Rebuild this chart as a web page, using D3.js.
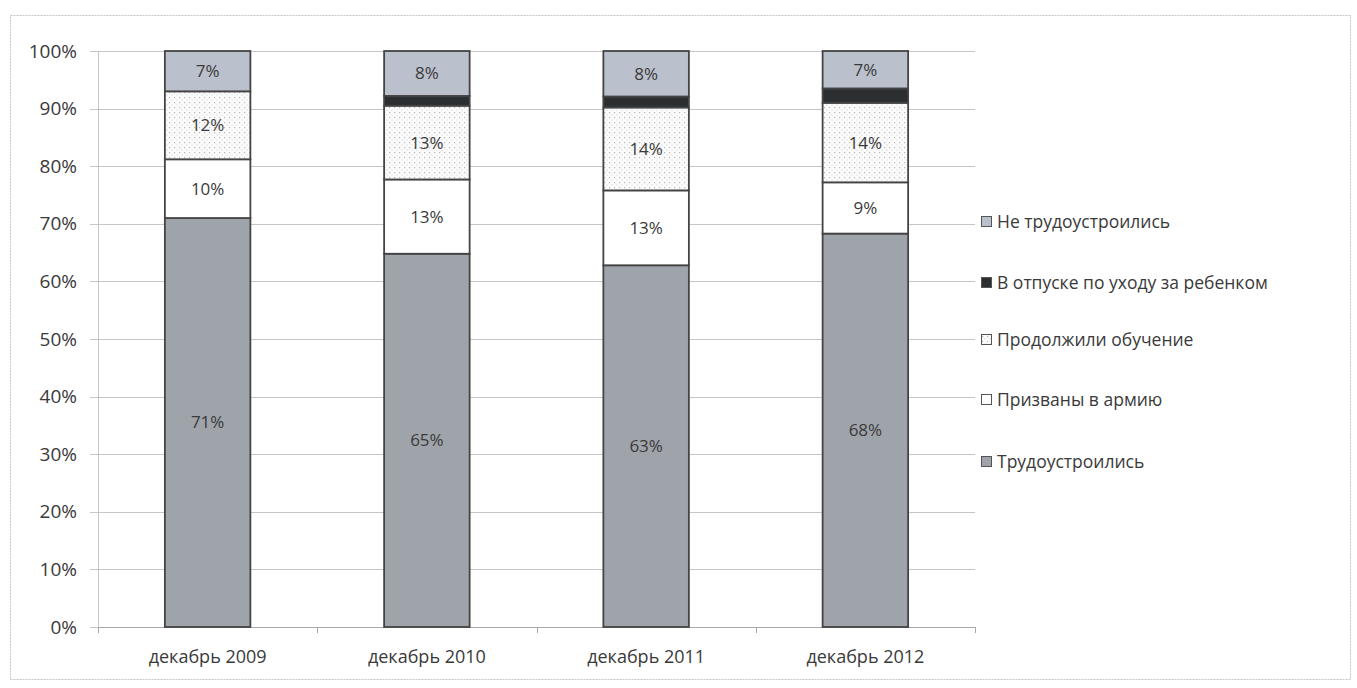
<!DOCTYPE html>
<html>
<head>
<meta charset="utf-8">
<script src="https://cdn.jsdelivr.net/npm/d3@7"></script>
<style>
  body { margin: 0; background: #fff; }
  text { font-family: "Open Sans", sans-serif; fill: #3a3a3a; }
</style>
</head>
<body>
<div id="drawingArea"></div>
<script>
// categories and series (percent of graduates)
var categories = ["декабрь 2009", "декабрь 2010", "декабрь 2011", "декабрь 2012"];
var seriesNames = ["Трудоустроились", "Призваны в армию", "Продолжили обучение",
                   "В отпуске по уходу за ребенком", "Не трудоустроились"];
var employed   = [71, 64.8, 62.8, 68.3];
var army       = [10.2, 12.9, 13.0, 8.9];
var study      = [11.8, 12.8, 14.4, 13.8];
var leave      = [0, 1.7, 1.9, 2.5];
var unemployed = [7, 7.8, 7.9, 6.5];
var yTicks = [0, 10, 20, 30, 40, 50, 60, 70, 80, 90, 100];

var seriesValues = [employed, army, study, leave, unemployed];
var fills = ["#9fa3aa", "#ffffff", "url(#dots)", "#2b2f31", "#bac0cc"];
var showLabel = [true, true, true, false, true];

var W = 1357, H = 688;
var margin = {top: 51, left: 98},
    width = 877,
    height = 576;

var svg = d3.select("#drawingArea").append("svg")
    .attr("width", W)
    .attr("height", H);

// dotted fill
var pat = svg.append("defs").append("pattern")
    .attr("id", "dots")
    .attr("width", 5).attr("height", 5)
    .attr("patternUnits", "userSpaceOnUse");
pat.append("rect").attr("width", 5).attr("height", 5).attr("fill", "#fbfbfb");
pat.append("rect").attr("x", 1).attr("y", 1).attr("width", 1.2).attr("height", 1.2).attr("fill", "#b8b8b8");
pat.append("rect").attr("x", 3.5).attr("y", 3.5).attr("width", 1).attr("height", 1).attr("fill", "#d0d0d0");

// chart frame
svg.append("rect")
    .attr("x", 10.5).attr("y", 15.5)
    .attr("width", 1340).attr("height", 664)
    .attr("fill", "none")
    .attr("stroke", "#c4c4c4")
    .attr("stroke-dasharray", "2,1");

var g = svg.append("g")
    .attr("transform", "translate(" + margin.left + "," + margin.top + ")");

var x = d3.scaleBand().domain(categories).range([0, width]);
var y = d3.scaleLinear().domain([0, 100]).range([height, 0]);
var barW = x.bandwidth() * 0.39;

// gridlines
g.selectAll(".grid")
    .data(yTicks)
    .enter().append("line")
    .attr("x1", -8).attr("x2", width)
    .attr("y1", function(d) { return Math.round(y(d)) + 0.5; })
    .attr("y2", function(d) { return Math.round(y(d)) + 0.5; })
    .attr("stroke", "#c6c6c6")
    .attr("stroke-width", 1);

// y axis
var yAxis = g.append("g")
    .call(d3.axisLeft(y).tickValues(yTicks).tickSize(0).tickPadding(21)
        .tickFormat(function(d) { return d + "%"; }));
yAxis.select(".domain").attr("stroke", "#c6c6c6");
yAxis.selectAll("text").style("font-size", "19px").attr("fill", "#3a3a3a");

// x axis
var xAxis = g.append("g")
    .attr("transform", "translate(0," + height + ")")
    .call(d3.axisBottom(x).tickSize(0).tickPadding(23));
xAxis.select(".domain").attr("stroke", "#a8a8a8");
xAxis.selectAll("text").style("font-size", "18px").attr("fill", "#2e2e2e");
g.selectAll(".xtick")
    .data(d3.range(categories.length + 1))
    .enter().append("line")
    .attr("x1", function(i) { return Math.round(i * x.step()) + 0.5; })
    .attr("x2", function(i) { return Math.round(i * x.step()) + 0.5; })
    .attr("y1", height).attr("y2", height + 6)
    .attr("stroke", "#a8a8a8");

// stacked bars
var rows = categories.map(function(c, i) {
    var r = {cat: c};
    seriesNames.forEach(function(s, k) { r[s] = seriesValues[k][i]; });
    return r;
});
var stack = d3.stack().keys(seriesNames)(rows);

stack.forEach(function(layer, k) {
    var lg = g.append("g");
    lg.selectAll("rect")
        .data(layer.filter(function(d) { return d[1] - d[0] > 0; }))
        .enter().append("rect")
        .attr("x", function(d) { return x(d.data.cat) + (x.bandwidth() - barW) / 2; })
        .attr("width", barW)
        .attr("y", function(d) { return y(d[1]); })
        .attr("height", function(d) { return y(d[0]) - y(d[1]); })
        .attr("fill", fills[k])
        .attr("stroke", "#444")
        .attr("stroke-width", 1.8);
    if (showLabel[k]) {
        lg.selectAll("text")
            .data(layer.filter(function(d) { return d[1] - d[0] > 0; }))
            .enter().append("text")
            .attr("x", function(d) { return x(d.data.cat) + x.bandwidth() / 2; })
            .attr("y", function(d) { return y((d[0] + d[1]) / 2); })
            .attr("dy", "0.35em")
            .attr("text-anchor", "middle")
            .style("font-size", "17px")
            .attr("fill", "#3a3a3a")
            .text(function(d) { return Math.round(d[1] - d[0]) + "%"; });
    }
});

// legend (top item first)
var legendY = [222, 283, 340, 400, 462];
var legend = svg.append("g");
var order = [4, 3, 2, 1, 0];
order.forEach(function(k, i) {
    var item = legend.append("g")
        .attr("transform", "translate(981," + legendY[i] + ")");
    item.append("rect")
        .attr("x", 0.5).attr("y", -5.5)
        .attr("width", 10).attr("height", 10)
        .attr("fill", fills[k])
        .attr("stroke", "#555")
        .attr("stroke-width", 1);
    item.append("text")
        .attr("x", 16).attr("dy", "0.35em")
        .style("font-size", "17.5px")
        .attr("fill", "#333")
        .text(seriesNames[k]);
});
</script>
</body>
</html>
